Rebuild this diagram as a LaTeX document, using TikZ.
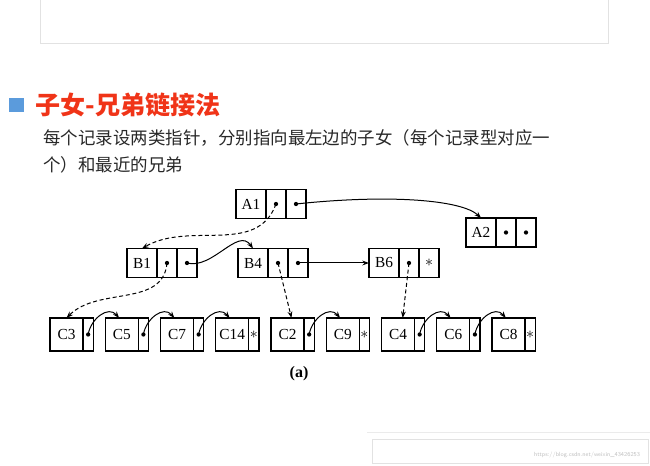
\documentclass[tikz,border=0pt]{standalone}
\usepackage{fontspec}
\setmainfont{Liberation Serif}
\newfontfamily\cjk{Noto Sans CJK SC}
\usetikzlibrary{positioning,calc,arrows.meta}
\tikzset{>={Stealth[length=5pt,width=3.6pt]}}
\definecolor{titlered}{RGB}{240,52,24}
\definecolor{bulletblue}{RGB}{91,155,220}
\definecolor{bodygray}{RGB}{40,40,40}
\definecolor{framegray}{RGB}{226,226,226}
\tikzset{
  lab/.style={draw,line width=.9pt,minimum width=22.5pt,minimum height=21.75pt,
    inner sep=0pt,outer sep=0pt,font=\fontsize{11.5}{12}\selectfont},
  ptr/.style={lab,minimum width=15pt},
  clab/.style={lab,minimum width=24.75pt,minimum height=24.75pt},
  cptr/.style={clab,minimum width=7.7pt},
  child/.style={->,dash pattern=on 3pt off 2pt},
  sibling/.style={->}
}

\begin{document}
\begin{tikzpicture}[x=.75pt,y=.75pt,line width=.75pt]
\useasboundingbox (0,0) rectangle (650,466);
% slide frame and header
\draw[framegray] (40,470) -- (40,422) -- (608,422) -- (608,470);
\node[fill=bulletblue,minimum size=11pt,inner sep=0pt] (bullet) at (16.5,361) {};
\node[anchor=west,inner sep=0pt,text=titlered,font=\cjk\bfseries\fontsize{18.8}{20}\selectfont] (title) at (35,361) {子女-兄弟链接法};
\node[anchor=west,inner sep=0pt,text=bodygray,font=\cjk\fontsize{13.1}{16}\selectfont] (line1) at (43,328) {每个记录设两类指针，分别指向最左边的子女（每个记录型对应一};
\node[anchor=west,inner sep=0pt,text=bodygray,font=\cjk\fontsize{13.1}{16}\selectfont] (line2) at (43,301) {个）和最近的兄弟};

% records A and B
\node[lab] (A1) at (251,262) {A1};
\node[ptr,right=0pt of A1] (A1c) {};
\node[ptr,right=0pt of A1c] (A1s) {};
\node[lab] (A2) at (481,233.5) {A2};
\node[ptr,right=0pt of A2] (A2c) {};
\node[ptr,right=0pt of A2c] (A2s) {};
\node[lab] (B1) at (142,203) {B1};
\node[ptr,right=0pt of B1] (B1c) {};
\node[ptr,right=0pt of B1c] (B1s) {};
\node[lab] (B4) at (253,203) {B4};
\node[ptr,right=0pt of B4] (B4c) {};
\node[ptr,right=0pt of B4c] (B4s) {};
\node[lab] (B6) at (384,203) {B6};
\node[ptr,right=0pt of B6] (B6c) {};
\node[ptr,right=0pt of B6c] (B6s) {\large$*$};

% records C
\foreach \n [count=\i from 0] in {C3,C5,C7,C14,C2,C9,C4,C6,C8} {
  \node[clab] (\n) at ({66.5+55.25*\i},131.5) {\n};
  \node[cptr,right=0pt of \n] (s\n) {};
}
\foreach \n in {C14,C9,C8}
  \node[inner sep=0pt] at (s\n) {\large$*$};

% pointers
\foreach \d in {A1c,A1s,A2c,A2s,B1c,B1s,B4c,B4s,B6c}
  \fill (\d.center) circle[radius=1.6pt];
\draw[child] (A1c.center) to[out=-110,in=30] (B1.north);
\draw[sibling] (A1s.center) .. controls (390,272) and (462,266) .. (A2.north);
\draw[child] (B1c.center) to[out=-95,in=45] (C3.north);
\draw[sibling] (B1s.center) to[out=-15,in=125] (B4.north);
\draw[child] (B4c.center) -- ([xshift=3pt]C2.north);
\draw[sibling] (B4s.center) -- (B6.west);
\draw[child] (B6c.center) -- ([xshift=3.5pt]C4.north);
\foreach \a/\b in {C3/C5,C5/C7,C7/C14,C2/C9,C4/C6,C6/C8} {
  \fill (s\a.center) circle[radius=1.6pt];
  \draw[sibling] (s\a.center) to[out=80,in=130,looseness=1.2] ([xshift=-2pt]\b.north);
}
\node[font=\bfseries\fontsize{12}{14}\selectfont] (cap) at (299,92) {(a)};

% watermark box
\draw[framegray!70] (367,33) -- (650,33);
\draw[framegray] (372,2) rectangle (648,26);
\node[anchor=east,text=black!25,font=\sffamily\fontsize{4.5}{5}\selectfont] (mark) at (645,11) {https://blog.csdn.net/weixin\_43426253};
\end{tikzpicture}
\end{document}
